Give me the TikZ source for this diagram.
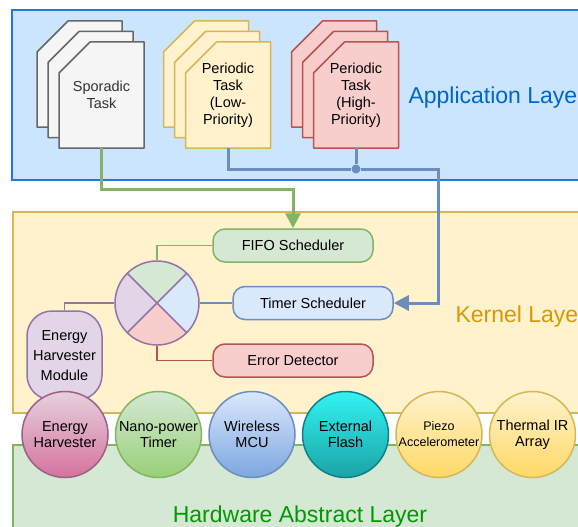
\documentclass[tikz,border=0pt]{standalone}
\usepackage{fontspec}
\setmainfont{Liberation Sans}
\usetikzlibrary{arrows.meta,positioning,calc}

\definecolor{appF}{HTML}{CCE5FF}
\definecolor{appL}{HTML}{2277DD}
\definecolor{appT}{HTML}{0066CC}
\definecolor{kerF}{HTML}{FFF2CC}
\definecolor{kerL}{HTML}{D6B656}
\definecolor{kerT}{HTML}{D79B00}
\definecolor{halF}{HTML}{D5E8D4}
\definecolor{halL}{HTML}{82B366}
\definecolor{halT}{HTML}{009900}
\definecolor{grayF}{HTML}{F5F5F5}
\definecolor{grayL}{HTML}{666666}
\definecolor{grayT}{HTML}{333333}
\definecolor{redF}{HTML}{F8CECC}
\definecolor{redL}{HTML}{B85450}
\definecolor{bluF}{HTML}{DAE8FC}
\definecolor{bluL}{HTML}{6C8EBF}
\definecolor{bluG}{HTML}{7EA6E0}
\definecolor{grnG}{HTML}{97D077}
\definecolor{purF}{HTML}{E1D5E7}
\definecolor{purL}{HTML}{9673A6}
\definecolor{pinkF}{HTML}{E6D0DE}
\definecolor{pinkG}{HTML}{D5739D}
\definecolor{pinkL}{HTML}{996185}
\definecolor{cyanF}{HTML}{33F2F2}
\definecolor{cyanG}{HTML}{1BA3A6}
\definecolor{cyanL}{HTML}{0E8088}
\definecolor{yelG}{HTML}{FFD966}

\tikzstyle{txt}=[font=\fontsize{14.5}{17}\selectfont]
\tikzstyle{pg}=[rectangle, minimum width=85pt, minimum height=106pt, inner sep=0pt, txt, align=center]
\tikzstyle{sch}=[rectangle, rounded corners=12pt, minimum width=160pt, minimum height=33pt, inner sep=0pt, draw, line width=1.5pt, txt]
\tikzstyle{hwC}=[circle, minimum size=86pt, inner sep=0pt, draw, line width=1.5pt, align=center, font=\fontsize{14.5}{16}\selectfont]
\tikzstyle{lbl}=[font=\fontsize{23}{27}\selectfont]
\tikzstyle{eBig}=[line width=3pt]
\tikzstyle{eThin}=[line width=1.5pt]

% page with cut corner, centred at #1
\newcommand{\pgshape}[3]{%
  \filldraw[fill=#2, draw=#3, line width=1.5pt, line join=round]
    ($(#1)+(-42.5,-53)$) -- ($(#1)+(-42.5,22)$) -- ($(#1)+(-11.5,53)$)
    -- ($(#1)+(42.5,53)$) -- ($(#1)+(42.5,-53)$) -- cycle;}

\begin{document}
\begin{tikzpicture}[x=1pt,y=1pt]
\clip (0,0) rectangle (578,-527);
% layers
\draw[line width=1.5pt, fill=appF, draw=appL] (12,-10) rectangle (600,-180);
\draw[line width=1.5pt, fill=kerF, draw=kerL] (13,-212) rectangle (600,-413);
\draw[line width=1.5pt, fill=halF, draw=halL] (13,-445) rectangle (600,-560);
\node[lbl, anchor=base west, text=appT] (appLbl) at (405,-103) {Application Layer};
\node[lbl, anchor=base west, text=kerT] (kerLbl) at (452,-322) {Kernel Layer};
\node[lbl, anchor=base, text=halT] (halLbl) at (300,-522) {Hardware Abstract Layer};

% tasks
\pgshape{79.5,-74}{grayF}{grayL}
\pgshape{90.5,-84.5}{grayF}{grayL}
\pgshape{101.5,-95}{grayF}{grayL}
\draw (101.5,-95) node[pg, text=grayT] (spor) {Sporadic\\Task};
\pgshape{206,-74}{kerF}{kerL}
\pgshape{217,-84.5}{kerF}{kerL}
\pgshape{228,-95}{kerF}{kerL}
\draw (228,-95) node[pg] (low) {Periodic\\Task\\(Low-\\Priority)};
\pgshape{334,-74}{redF}{redL}
\pgshape{345,-84.5}{redF}{redL}
\pgshape{356,-95}{redF}{redL}
\draw (356,-95) node[pg] (high) {Periodic\\Task\\(High-\\Priority)};

% kernel
\draw (293,-245.5) node[sch, fill=halF, draw=halL] (fifo) {FIFO Scheduler};
\draw (313,-303) node[sch, fill=bluF, draw=bluL] (timer) {Timer Scheduler};
\draw (293,-360.5) node[sch, fill=redF, draw=redL] (err) {Error Detector};
\draw (64.5,-355.5) node[rectangle, rounded corners=25pt, minimum width=75pt, minimum height=89pt, inner sep=0pt, draw=purL, fill=purF, line width=1.5pt, align=center, font=\fontsize{14.5}{20}\selectfont] (ehm) {Energy\\Harvester\\Module};

\coordinate (dc) at (157,-303);
\fill[halF] (dc) -- ++(45:42pt) arc[start angle=45, end angle=135, radius=42pt] -- cycle;
\fill[bluF] (dc) -- ++(-45:42pt) arc[start angle=-45, end angle=45, radius=42pt] -- cycle;
\fill[redF] (dc) -- ++(225:42pt) arc[start angle=225, end angle=315, radius=42pt] -- cycle;
\fill[purF] (dc) -- ++(135:42pt) arc[start angle=135, end angle=225, radius=42pt] -- cycle;
\node[circle, minimum size=84pt, inner sep=0pt, draw=purL, line width=1.5pt] (disp) at (dc) {};
\draw[purL, eThin] (disp.45) -- (disp.225);
\draw[purL, eThin] (disp.135) -- (disp.315);

\draw[eThin, halL] (fifo.west) -| (disp.north);
\draw[eThin, bluL] (disp.east) -- (timer.west);
\draw[eThin, redL] (disp.south) |- (err.west);
\draw[eThin, purL] (disp.west) -| (ehm.north);

% connectors from tasks
\coordinate (gturn) at (293,-189);
\draw[eBig, halL, -{Triangle[length=15pt,width=15pt]}] (spor.south) |- (gturn) -- (fifo.north);
\node[circle, fill=bluL, minimum size=9pt, inner sep=0pt] (hub) at (356,-169) {};
\coordinate (bturn) at (438,-303);
\draw[eBig, bluL] (low.south) |- (hub);
\draw[eBig, bluL] (high.south) -- (hub);
\draw[eBig, bluL, -{Triangle[length=15pt,width=15pt]}] (hub) -| (bturn) -- (timer.east);

% hardware
\node[hwC, draw=pinkL, top color=pinkF, bottom color=pinkG] (eh) at (65,-434.5) {Energy\\Harvester};
\node[hwC, draw=halL, top color=halF, bottom color=grnG, right=6pt of eh] (npt) {Nano-power\\Timer};
\node[hwC, draw=bluL, top color=bluF, bottom color=bluG, right=6pt of npt] (mcu) {Wireless\\MCU};
\node[hwC, draw=cyanL, top color=cyanF, bottom color=cyanG, right=6pt of mcu] (flash) {External\\Flash};
\node[hwC, draw=kerL, top color=kerF, bottom color=yelG, right=6pt of flash, font=\fontsize{12.5}{16}\selectfont] (piezo) {Piezo\\Accelerometer};
\node[hwC, draw=kerL, top color=kerF, bottom color=yelG, right=6pt of piezo] (thir) {Thermal IR\\Array};
\end{tikzpicture}
\end{document}
